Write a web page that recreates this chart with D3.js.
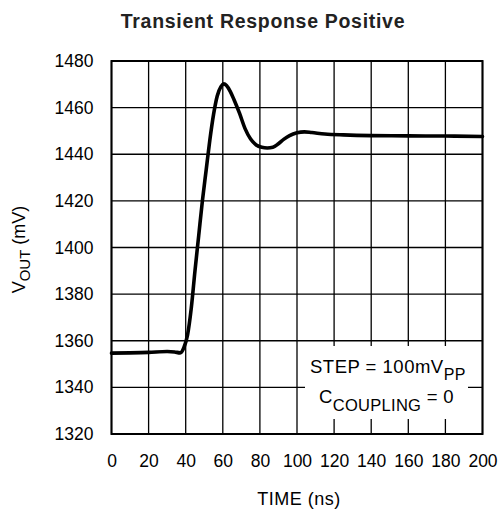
<!DOCTYPE html>
<html><head><meta charset="utf-8">
<script src="https://cdn.jsdelivr.net/npm/d3@7"></script>
<style>
html,body{margin:0;padding:0;background:#fff;}
svg{display:block;font-family:"Liberation Sans",Arial,Helvetica,sans-serif;}
</style></head>
<body><svg id="c" width="501" height="512"></svg>
<script>
const timeNs = [0, 10, 20, 30, 34, 37, 39, 41, 43, 45, 47, 49, 51, 53, 55, 57, 59, 60.5, 62, 64, 66, 69, 72, 75, 78, 81, 84, 87, 90, 93, 96, 100, 104, 108, 115, 125, 140, 160, 180, 200];
const voutMv = [1354.7, 1354.8, 1355, 1355.4, 1355.2, 1354.8, 1357, 1362.5, 1374, 1390, 1405, 1420, 1433, 1446, 1457, 1465, 1469, 1470.2, 1469.5, 1467, 1463.5, 1457.6, 1451, 1446.5, 1444, 1443, 1442.7, 1443, 1444.5, 1446.5, 1448, 1449.2, 1449.6, 1449.3, 1448.7, 1448.3, 1448, 1447.9, 1447.8, 1447.6];
const xTicks = [0, 20, 40, 60, 80, 100, 120, 140, 160, 180, 200];
const yTicks = [1320, 1340, 1360, 1380, 1400, 1420, 1440, 1460, 1480];
const titleText = "Transient Response Positive";

const svg = d3.select("#c");
const L = 111.5, R = 482.5, T = 61, B = 434;
const x = d3.scaleLinear().domain([0, 200]).range([L, R]);
const y = d3.scaleLinear().domain([1320, 1480]).range([B, T]);
const font = "17.5px";

// grid
const grid = svg.append("g").attr("stroke", "#000").attr("stroke-width", 1.3);
grid.selectAll("line.v").data(xTicks).join("line")
  .attr("x1", d => x(d)).attr("x2", d => x(d)).attr("y1", T).attr("y2", B);
grid.selectAll("line.h").data(yTicks).join("line")
  .attr("y1", d => y(d)).attr("y2", d => y(d)).attr("x1", L).attr("x2", R);

// legend box (white patch over grid)
svg.append("rect").attr("x", 305).attr("y", 346).attr("width", 163).attr("height", 73).attr("fill", "#fff");

// border
svg.append("rect").attr("x", L).attr("y", T).attr("width", R - L).attr("height", B - T)
  .attr("fill", "none").attr("stroke", "#000").attr("stroke-width", 2);

// curve
const pts = timeNs.map((t, i) => [t, voutMv[i]]);
svg.append("path").datum(pts)
  .attr("fill", "none").attr("stroke", "#000").attr("stroke-width", 3.6)
  .attr("stroke-linejoin", "round").attr("stroke-linecap", "round")
  .attr("d", d3.line().x(d => x(d[0])).y(d => y(d[1])).curve(d3.curveMonotoneX));

// axes (labels only)
const ax = svg.append("g").attr("transform", `translate(0,${B})`)
  .call(d3.axisBottom(x).tickValues(xTicks).tickSize(0).tickPadding(21).tickFormat(d3.format("d")));
const ay = svg.append("g").attr("transform", `translate(${L},0)`)
  .call(d3.axisLeft(y).tickValues(yTicks).tickSize(0).tickPadding(18).tickFormat(d3.format("d")));
[ax, ay].forEach(a => {
  a.select(".domain").remove();
  a.selectAll("text").attr("font-size", font).attr("fill", "#000")
    .attr("font-family", "'Liberation Sans',Arial,Helvetica,sans-serif");
});

// title
svg.append("text").attr("x", 263).attr("y", 28).attr("text-anchor", "middle")
  .attr("font-size", "19.5px").attr("font-weight", "bold").attr("letter-spacing", "0.7px")
  .attr("fill", "#222").text(titleText);

// x axis title
svg.append("text").attr("x", 299).attr("y", 505).attr("text-anchor", "middle")
  .attr("font-size", "18px").attr("letter-spacing", "0.5px").attr("fill", "#000").text("TIME (ns)");

// y axis title
const yt = svg.append("text").attr("transform", `translate(25,${(T + B) / 2 + 2}) rotate(-90)`)
  .attr("text-anchor", "middle").attr("font-size", "18px").attr("fill", "#000");
yt.append("tspan").text("V");
yt.append("tspan").attr("font-size", "15px").attr("dy", 5).text("OUT");
yt.append("tspan").attr("dy", -5).text(" (mV)");

// legend text
const lf = "18.5px";
const l1 = svg.append("text").attr("x", 310).attr("y", 373).attr("font-size", lf)
  .attr("letter-spacing", "0.5px").attr("fill", "#000");
l1.append("tspan").text("STEP = 100mV");
l1.append("tspan").attr("dy", 7).attr("font-size", "16px").text("PP");
const l2 = svg.append("text").attr("x", 319).attr("y", 403).attr("font-size", lf)
  .attr("letter-spacing", "0.3px").attr("fill", "#000");
l2.append("tspan").text("C");
l2.append("tspan").attr("dy", 8).attr("font-size", "16.5px").text("COUPLING");
l2.append("tspan").attr("dy", -8).text(" = 0");
</script></body></html>
